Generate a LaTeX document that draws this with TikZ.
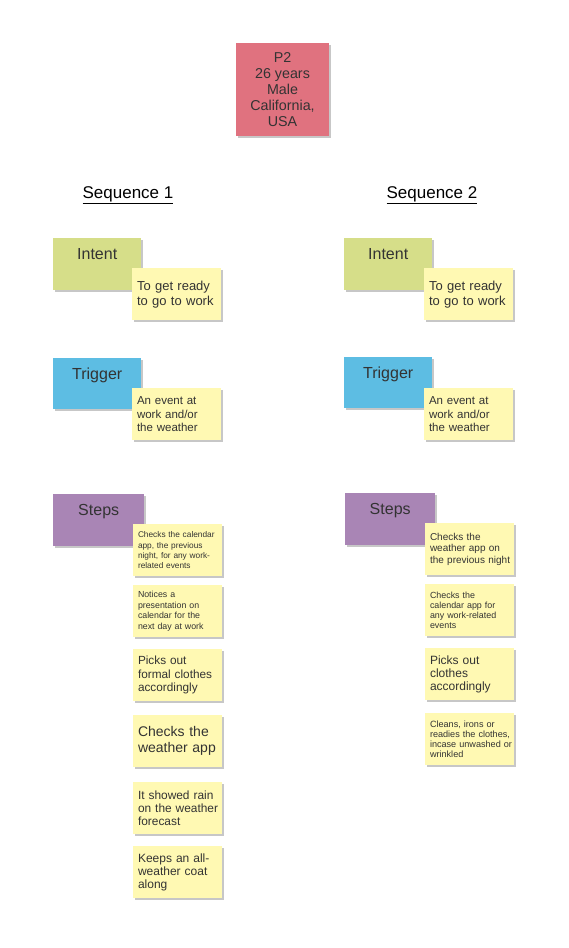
\documentclass[tikz,border=0pt]{standalone}
\usepackage{fontspec}
\setmainfont{Liberation Sans}
\usepackage{xcolor}
\definecolor{rosaNota}{HTML}{E0727F}
\definecolor{verdeNota}{HTML}{D6DE89}
\definecolor{azulNota}{HTML}{5DBDE3}
\definecolor{moradoNota}{HTML}{A985B5}
\definecolor{amarilloNota}{HTML}{FFF9B3}
\definecolor{textoNota}{HTML}{333333}
\usepackage{tikz}
\usetikzlibrary{shadows}

\begin{document}
\begin{tikzpicture}[x=1pt,y=-1pt,
  fs/.style 2 args={font=\fontsize{#1}{#2}\selectfont},
  sticky/.style={rectangle,anchor=north west,text=textoNota,
    drop shadow={shadow xshift=1.5pt,shadow yshift=-2pt,fill=black,opacity=.22}},
  catbox/.style={sticky,minimum width=88,inner ysep=4.5pt,
    text height=16.5pt,text depth=26.5pt,fs={16}{19}},
  note/.style={sticky,fill=amarilloNota,minimum height=52,
    inner xsep=0pt,text width=89pt,align=left,
    execute at begin node={\leftskip=4.8pt}},
  seqhead/.style={anchor=base,text=black,fs={17}{20}}]

% Fondo
\useasboundingbox[fill=white] (0,0) rectangle (568,948);

% Persona
\node[sticky,anchor=center,fill=rosaNota,minimum size=93,align=center,fs={14.3}{15.9}]
  (persona) at (282.5,89.5) {P2\\26 years\\Male\\California,\\USA};

% Títulos
\node[seqhead] (seq1) at (128,198) {\underline{Sequence 1}};
\node[seqhead] (seq2) at (432,198) {\underline{Sequence 2}};

% Secuencia 1
\node[catbox,fill=verdeNota] (intentA) at (53,238) {Intent};
\node[note,fs={13}{15}] (intentAtxt) at (132,268) {To get ready\\to go to work};

\node[catbox,fill=azulNota,text depth=25.5pt] (triggerA) at (53,358) {Trigger};
\node[note,fs={11.5}{13.5}] (triggerAtxt) at (132,388) {An event at\\work and/or\\the weather};

\node[catbox,fill=moradoNota,minimum width=91] (stepsA) at (53,494) {Steps};
\node[note,fs={8.3}{10.3}] (stepA1) at (133,524)
  {Checks the calendar\\app, the previous\\night, for any work-\\related events};
\node[note,fs={8.8}{10.4}] (stepA2) at (133,585)
  {Notices a\\presentation on\\calendar for the\\next day at work};
\node[note,fs={11.8}{13.5}] (stepA3) at (133,649)
  {Picks out\\formal clothes\\accordingly};
\node[note,fs={14}{16}] (stepA4) at (133,715)
  {Checks the\\weather app};
\node[note,fs={11.9}{13.3}] (stepA5) at (133,782)
  {It showed rain\\on the weather\\forecast};
\node[note,fs={12}{13.3}] (stepA6) at (133,846)
  {Keeps an all-\\weather coat\\along};

% Secuencia 2
\node[catbox,fill=verdeNota] (intentB) at (344,238) {Intent};
\node[note,fs={13}{15}] (intentBtxt) at (424,268) {To get ready\\to go to work};

\node[catbox,fill=azulNota,text depth=25.5pt] (triggerB) at (344,357) {Trigger};
\node[note,fs={11.5}{13.5}] (triggerBtxt) at (424,388) {An event at\\work and/or\\the weather};

\node[catbox,fill=moradoNota,minimum width=90] (stepsB) at (345,493) {Steps};
\node[note,fs={10}{11.3}] (stepB1) at (425,523)
  {Checks the\\weather app on\\the previous night};
\node[note,fs={8.9}{10.2}] (stepB2) at (425,584)
  {Checks the\\calendar app for\\any work-related\\events};
\node[note,fs={12}{13.3}] (stepB3) at (425,648)
  {Picks out\\clothes\\accordingly};
\node[note,fs={9.1}{10.1}] (stepB4) at (425,713)
  {Cleans, irons or\\readies the clothes,\\incase unwashed or\\wrinkled};

\end{tikzpicture}
\end{document}
